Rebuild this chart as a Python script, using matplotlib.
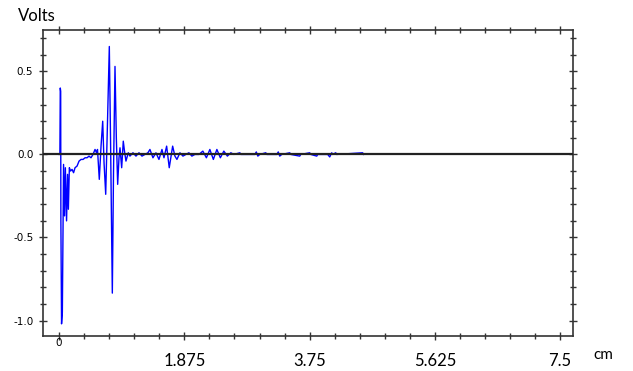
from matplotlib import pyplot as plt
from matplotlib.ticker import MultipleLocator

# distance in cm, signal in volts
dist_cm = [0.000, 0.012, 0.018, 0.024, 0.027, 0.037, 0.049, 0.067, 0.082, 0.094,
           0.112, 0.127, 0.139, 0.154, 0.172, 0.194, 0.217, 0.239, 0.269, 0.299,
           0.329, 0.359, 0.389, 0.419, 0.448, 0.478, 0.508, 0.538, 0.561, 0.575,
           0.602, 0.628, 0.653, 0.673, 0.698, 0.725, 0.752, 0.770, 0.797, 0.815,
           0.837, 0.857, 0.877, 0.897, 0.912, 0.937, 0.961, 0.979, 1.001, 1.036,
           1.061, 1.106, 1.151, 1.196, 1.241, 1.285, 1.330, 1.360, 1.405, 1.450,
           1.495, 1.540, 1.570, 1.610, 1.649, 1.700, 1.734, 1.764, 1.809, 1.854,
           1.898, 1.943, 1.988, 2.033, 2.093, 2.152, 2.205, 2.257, 2.309, 2.362,
           2.414, 2.466, 2.519, 2.571, 2.616, 2.706, 2.720, 2.930, 2.952, 2.975,
           3.004, 3.094, 3.109, 3.259, 3.281, 3.303, 3.333, 3.453, 3.468, 3.602,
           3.617, 3.752, 3.767, 3.857, 3.871, 4.021, 4.051, 4.081, 4.096, 4.141,
           4.155, 4.544, 4.559]
volts = [0.0, 0.0, 0.40, 0.38, -0.40, -1.02, -0.95, -0.06, -0.37, -0.08,
         -0.40, -0.12, -0.33, -0.08, -0.10, -0.09, -0.11, -0.08, -0.07, -0.04,
         -0.03, -0.03, -0.02, -0.02, -0.01, -0.02, 0.0, 0.03, 0.01, 0.03,
         -0.15, 0.05, 0.20, -0.05, -0.24, 0.20, 0.65, 0.10, -0.835, -0.10,
         0.53, 0.10, -0.18, -0.02, 0.04, -0.08, 0.08, 0.02, -0.04, 0.01,
         -0.01, 0.01, -0.01, 0.01, -0.01, 0.0, 0.01, 0.03, -0.02, 0.01,
         -0.03, 0.03, -0.02, 0.05, -0.08, 0.05, -0.01, -0.03, 0.01, -0.01,
         0.0, 0.01, -0.01, 0.0, 0.0, 0.02, -0.02, 0.03, -0.03, 0.03,
         -0.02, 0.02, -0.01, 0.01, 0.0, 0.01, 0.0, 0.0, 0.015, -0.01,
         0.0, 0.01, 0.0, 0.0, 0.015, -0.01, 0.0, 0.01, 0.0, -0.01,
         0.0, 0.01, 0.0, -0.01, 0.0, 0.0, -0.015, 0.01, 0.0, 0.01,
         0.0, 0.01, 0.0]

x_ticks = [0, 1.875, 3.75, 5.625, 7.5]
x_labels = ['0', '1.875', '3.75', '5.625', '7.5']
y_ticks = [-1.0, -0.5, 0.0, 0.5]
y_labels = ['-1.0', '-0.5', '0.0', '0.5']

fig = plt.figure(figsize=(6.33, 3.71), dpi=100)
ax = fig.add_axes([0.068, 0.094, 0.838, 0.825])

ax.plot(dist_cm, volts, color='#0000ff', lw=1.0, zorder=2)
ax.axhline(0, color='#222222', lw=1.6, zorder=3)

ax.set_xlim(-0.24, 7.70)
ax.set_ylim(-1.094, 0.749)

for side in ['left', 'right', 'top', 'bottom']:
    ax.spines[side].set_color('#333333')
    ax.spines[side].set_linewidth(1.2)

ax.xaxis.set_minor_locator(MultipleLocator(0.375))
ax.yaxis.set_minor_locator(MultipleLocator(0.1))
ax.set_yticks(y_ticks)
ax.set_yticklabels(y_labels, fontsize=7.5, family='DejaVu Sans')
ax.set_xticks(x_ticks)
ax.set_xticklabels([''] + x_labels[1:], fontsize=12, family='Lato')

ax.tick_params(axis='both', which='both', direction='inout', color='#333333',
               width=1, top=True, right=True)
ax.tick_params(axis='x', which='major', length=6, pad=9)
ax.tick_params(axis='x', which='minor', length=5)
ax.tick_params(axis='y', which='major', length=6, pad=4)
ax.tick_params(axis='y', which='minor', length=5)

# "0" label sits higher and uses the small font
ax.text(x_ticks[0], -0.022, x_labels[0], transform=ax.get_xaxis_transform(),
        ha='center', va='center', fontsize=7.5, family='DejaVu Sans')

fig.text(0.028, 0.958, 'Volts', fontsize=12, family='Lato', va='center', ha='left')
fig.text(0.938, 0.043, 'cm', fontsize=11, family='Lato', va='center', ha='left')

plt.savefig('out.png', dpi=100)
